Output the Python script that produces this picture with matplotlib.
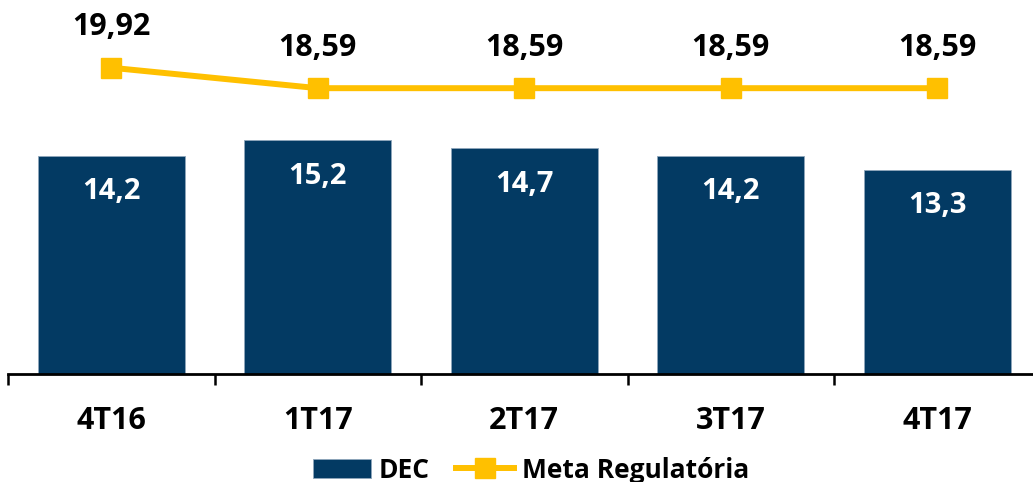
import numpy as np
import matplotlib.pyplot as plt

plt.rcParams['font.family'] = ['Open Sans', 'DejaVu Sans']
plt.rcParams['font.weight'] = 'bold'

trimestres = ['4T16', '1T17', '2T17', '3T17', '4T17']
dec = [14.2, 15.2, 14.7, 14.2, 13.3]
meta = [19.92, 18.59, 18.59, 18.59, 18.59]

azul = '#033A63'
amarelo = '#FFC000'

fig = plt.figure(figsize=(10.33, 4.82), dpi=100)
# eixo um pouco além da borda direita, como no original
ax = fig.add_axes([8/1033, 108/482, 1032.5/1033, 369/482])

x = np.arange(len(trimestres))
barras = ax.bar(x, dec, width=0.71, color=azul, edgecolor='#8fa6bb',
                linewidth=0.6, label='DEC', zorder=2)
linha, = ax.plot(x, meta, color=amarelo, lw=4.3, marker='s', markersize=15,
                 label='Meta Regulatória', zorder=3)

for i in range(len(x)):
    ax.annotate(f'{dec[i]:.1f}'.replace('.', ','), (x[i], dec[i]),
                xytext=(0, -26), textcoords='offset points',
                ha='center', va='center', color='white', fontsize=21,
                fontweight='bold')
    ax.annotate(f'{meta[i]:.2f}'.replace('.', ','), (x[i], meta[i]),
                xytext=(0, 29), textcoords='offset points',
                ha='center', va='center', color='black', fontsize=22,
                fontweight='bold')

ax.set_xlim(-0.5, len(x) - 0.5)
ax.set_ylim(0, 24)
ax.set_yticks([])
for s in ['top', 'right', 'left']:
    ax.spines[s].set_visible(False)
ax.spines['bottom'].set_linewidth(2)
ax.set_xticks(np.arange(len(x) + 1) - 0.5, minor=True)
ax.set_xticks(x)
ax.set_xticklabels(trimestres, fontsize=22, fontweight='bold')
ax.tick_params(axis='x', which='major', length=0, pad=23)
ax.tick_params(axis='x', which='minor', length=8, width=1.8, direction='out')

fig.legend([barras, linha], ['DEC', 'Meta Regulatória'], loc='center',
           bbox_to_anchor=(531/1033, 12/482), ncol=2,
           frameon=False, prop={'size': 19, 'weight': 'bold'},
           handlelength=2.2, handletextpad=0.3, columnspacing=1.0)

fig.savefig('out.png', dpi=100)
